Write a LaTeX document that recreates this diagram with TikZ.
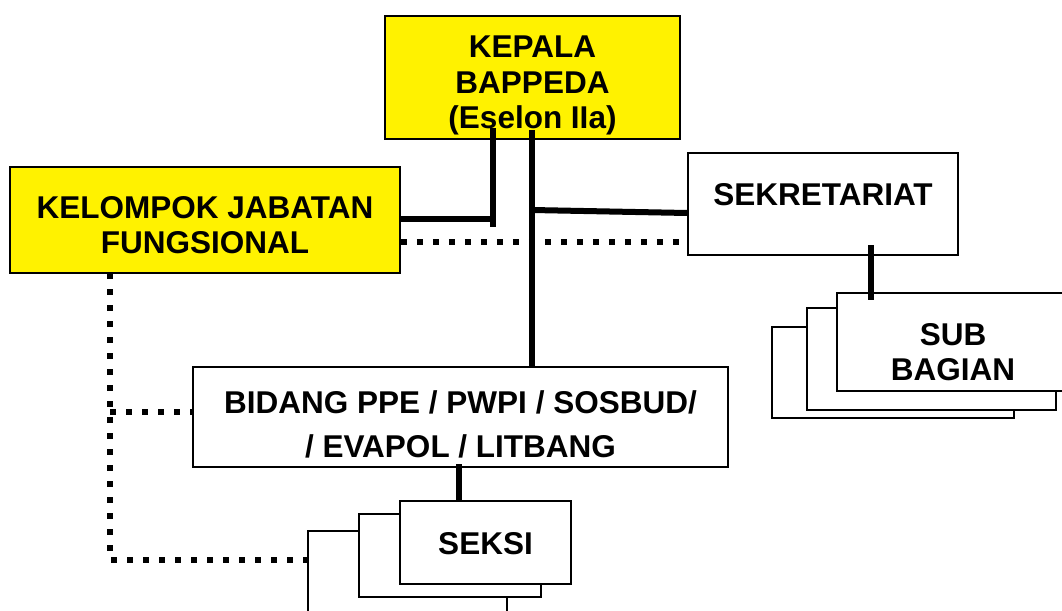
\documentclass[tikz,border=0pt]{standalone}
\usepackage{fontspec}
\setmainfont{Liberation Sans}
\begin{document}
\begin{tikzpicture}[x=1pt,y=-1pt,
  box/.style={draw=black, line width=1.6pt, inner sep=0pt},
  ybox/.style={box, fill=yellow},
  wbox/.style={box, fill=white},
  lbl/.style={font=\fontsize{31.5}{34}\selectfont\bfseries, inner sep=0pt, anchor=base},
  conn/.style={line width=6pt, line cap=butt},
  dots/.style={line width=6pt, dash pattern=on 6pt off 10pt, line cap=butt}]
\useasboundingbox (0,0) rectangle (1062,610);
% boxes
\node[ybox, minimum width=295pt, minimum height=123pt] (kepala) at (532.5,77.5) {};
\node[ybox, minimum width=390pt, minimum height=106pt] (kel) at (205,220) {};
\node[wbox, minimum width=270pt, minimum height=102pt] (sek) at (823,204) {};
\node[wbox, minimum width=242pt, minimum height=91pt] (subc) at (893,372.5) {};
\node[wbox, minimum width=249pt, minimum height=102pt] (subb) at (931.5,359) {};
\node[wbox, minimum width=231pt, minimum height=98pt] (suba) at (952.5,342) {};
\node[wbox, minimum width=535pt, minimum height=100pt] (bid) at (460.5,417) {};
\node[wbox, minimum width=199pt, minimum height=99pt] (seksc) at (407.5,580.5) {};
\node[wbox, minimum width=182pt, minimum height=83pt] (seksb) at (450,555.5) {};
\node[wbox, minimum width=171pt, minimum height=83pt] (seksa) at (485.5,542.5) {};
% texts
\node[lbl] (tk1) at (532.5,57) {KEPALA};
\node[lbl] (tk2) at (532.5,93) {BAPPEDA};
\node[lbl] (tk3) at (532.5,128) {(Eselon IIa)};
\node[lbl] (tj1) at (205,218) {KELOMPOK JABATAN};
\node[lbl] (tj2) at (205,253) {FUNGSIONAL};
\node[lbl] (ts) at (823,205) {SEKRETARIAT};
\node[lbl] (tsb1) at (953,345) {SUB};
\node[lbl] (tsb2) at (953,380) {BAGIAN};
\node[lbl] (tb1) at (460.5,413) {BIDANG PPE / PWPI / SOSBUD/};
\node[lbl] (tb2) at (460.5,457) {/ EVAPOL / LITBANG};
\node[lbl] (tse) at (485.5,554) {SEKSI};
% junction coordinates
\coordinate (ja) at (493,128);
\coordinate (jb) at (493,227);
\coordinate (jh) at (493,219);
\coordinate (jc) at (532,130);
\coordinate (jd) at (532,210);
\coordinate (je) at (688,213);
\coordinate (jf) at (871,245);
\coordinate (jg) at (871,300);
\coordinate (ji) at (459,464);
\coordinate (jj) at (459,502);
\coordinate (dk) at (110,273);
\coordinate (dm) at (110,412);
\coordinate (dn) at (110,560);
% solid connectors
\draw[conn] (ja) -- (jb);
\draw[conn] (kel.east |- jh) -- (jh);
\draw[conn] (jc) -- (bid.north -| jc);
\draw[conn] (jd) -- (sek.west |- je);
\draw[conn] (jf) -- (jg);
\draw[conn] (ji) -- (jj);
% dotted connectors
\draw[dots] ([yshift=-22pt]kel.east) -- (sek.west |- 0,242);
\draw[dots] (dk) -- (dn) -- (seksc.west |- dn);
\draw[dots] (dm) -- (bid.west |- dm);
\end{tikzpicture}
\end{document}
